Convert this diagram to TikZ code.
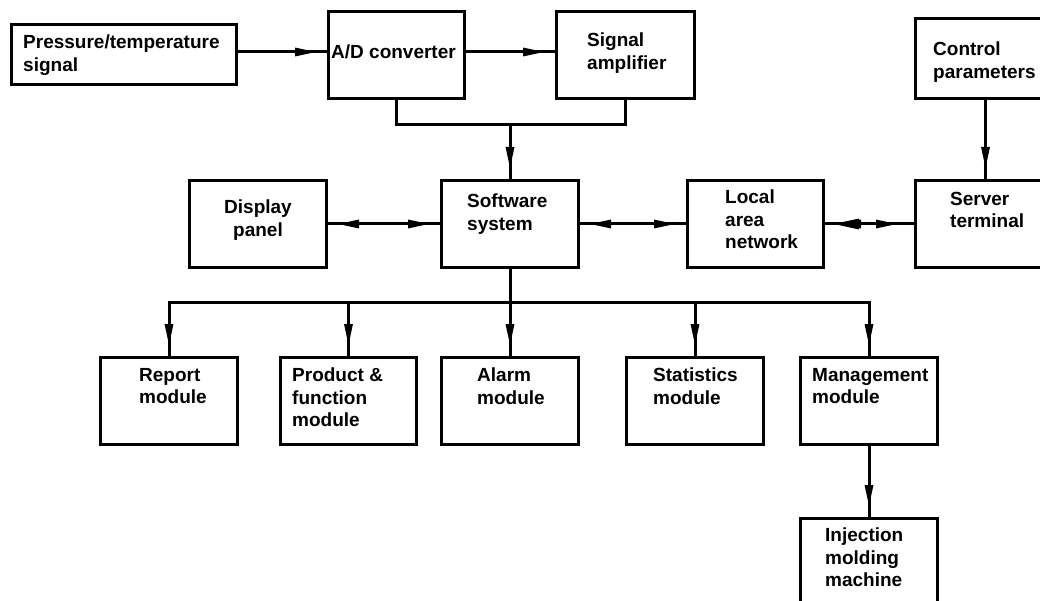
\documentclass[tikz,border=0pt]{standalone}
\usepackage{fontspec}
\setmainfont{Liberation Sans}
\usetikzlibrary{arrows.meta,decorations.markings}

\tikzset{
  x=1pt, y=-1pt,
  box/.style={draw, line width=3pt, rectangle, inner sep=0pt, anchor=north west},
  txt/.style={anchor=north west, inner sep=0pt, align=left,
              font=\fontsize{19}{22.5}\selectfont\bfseries},
  conn/.style={line width=3pt},
  headtip/.tip={Triangle[length=22pt,width=8pt]},
  fwd/.style={postaction={decorate}, decoration={markings,
      mark=at position -10pt with {\arrow{headtip}}}},
  twoway/.style={postaction={decorate}, decoration={markings,
      mark=at position 9pt with {\arrowreversed{headtip}},
      mark=at position -10pt with {\arrow{headtip}}}},
  twowaybold/.style={postaction={decorate}, decoration={markings,
      mark=at position 8pt with {\arrowreversed{Triangle[length=26pt,width=10pt]}},
      mark=at position 14pt with {\arrowreversed{headtip}},
      mark=at position -16pt with {\arrow{headtip}}}},
}

\begin{document}
\begin{tikzpicture}
\useasboundingbox (0,0) rectangle (1040,601);
\clip (0,0) rectangle (1040,601);

% blocks
\node[box, minimum width=225pt, minimum height=60pt] (press) at (10,23) {};
\node[box, minimum width=136pt, minimum height=87pt] (ad)    at (327,10) {};
\node[box, minimum width=138pt, minimum height=87pt] (sig)   at (555,10) {};
\node[box, minimum width=140pt, minimum height=80pt] (ctrl)  at (914,17) {};
\node[box, minimum width=137pt, minimum height=87pt] (disp)  at (188,179) {};
\node[box, minimum width=137pt, minimum height=87pt] (soft)  at (440,179) {};
\node[box, minimum width=136pt, minimum height=87pt] (lan)   at (686,179) {};
\node[box, minimum width=140pt, minimum height=87pt] (srv)   at (914,179) {};
\node[box, minimum width=137pt, minimum height=87pt] (rep)   at (99,356) {};
\node[box, minimum width=136pt, minimum height=87pt] (prod)  at (279,356) {};
\node[box, minimum width=137pt, minimum height=87pt] (alarm) at (440,356) {};
\node[box, minimum width=137pt, minimum height=87pt] (stat)  at (625,356) {};
\node[box, minimum width=137pt, minimum height=87pt] (mgmt)  at (799,356) {};
\node[box, minimum width=137pt, minimum height=100pt] (inj)  at (799,517) {};

% labels
\node[txt] (t-press) at (23,35)  {Pressure/temperature\\signal};
\node[txt] (t-ad)    at (331,45) {A/D converter};
\node[txt] (t-sig)   at (587,33) {Signal\\amplifier};
\node[txt] (t-ctrl)  at (933,42) {Control\\parameters};
\node[txt, anchor=north, align=center] (t-disp) at (258,200) {Display\\panel};
\node[txt] (t-soft)  at (467,194) {Software\\system};
\node[txt] (t-lan)   at (725,190) {Local\\area\\network};
\node[txt] (t-srv)   at (950,192) {Server\\terminal};
\node[txt] (t-rep)   at (139,368) {Report\\module};
\node[txt] (t-prod)  at (292,368) {Product \&\\function\\module};
\node[txt] (t-alarm) at (477,368) {Alarm\\module};
\node[txt] (t-stat)  at (653,368) {Statistics\\module};
\node[txt] (t-mgmt)  at (812,368) {Management\\module};
\node[txt] (t-inj)   at (825,528) {Injection\\molding\\machine};

% junction points, in line with the software block
\coordinate (join) at (soft.north |- 0,125);
\coordinate (bus)  at (soft.south |- 0,302);

% signal chain
\draw[conn,fwd] (press.east |- 0,52) -- (ad.west |- 0,52);
\draw[conn,fwd] (ad.east |- 0,52) -- (sig.west |- 0,52);
\draw[conn, line join=miter] (ad.south) |- (join) -| (sig.south);
\draw[conn,fwd] (join) -- (soft.north);

% two-way links
\draw[conn,twoway] (disp.east) -- (soft.west);
\draw[conn,twoway] (soft.east) -- (lan.west);
\draw[conn,twowaybold] (lan.east) -- (srv.west);
\draw[conn,fwd] (ctrl.south) -- (srv.north);

% distribution bus to the modules
\draw[conn] (soft.south) -- (bus);
\draw[conn, line cap=rect] (rep.north |- bus) -- (mgmt.north |- bus);
\foreach \m in {rep,prod,alarm,stat,mgmt}
  \draw[conn,fwd] (bus -| \m.north) -- (\m.north);
\draw[conn,fwd] (mgmt.south) -- (inj.north);
\end{tikzpicture}
\end{document}
